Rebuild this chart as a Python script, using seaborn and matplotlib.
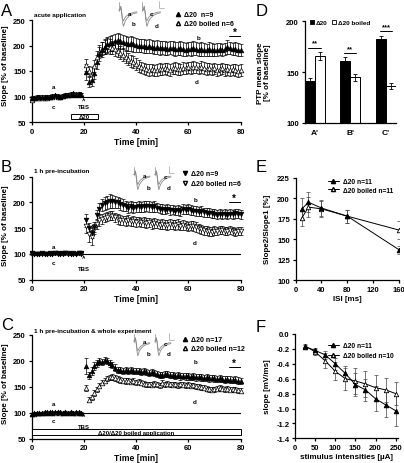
import numpy as np
import pandas as pd
import matplotlib
matplotlib.use("Agg")
import matplotlib.pyplot as plt
from matplotlib.patches import Rectangle
from matplotlib.lines import Line2D
import seaborn as sns

# ------------------------------------------------------------------ data
time_base = [0, 1, 2, 3, 4, 5, 6, 7, 8, 9, 10, 11, 12, 13, 14, 15, 16, 17, 18, 19]
time_post = [21, 22, 23, 24, 25, 26, 27, 28, 29, 30, 31, 32, 33, 34, 35, 36, 37, 38, 39, 40,
             41, 42, 43, 44, 45, 46, 47, 48, 49, 50, 51, 52, 53, 54, 55, 56, 57, 58, 59, 60,
             61, 62, 63, 64, 65, 66, 67, 68, 69, 70, 71, 72, 73, 74, 75, 76, 77, 78, 79, 80]

# Panel A - acute application
A_d20 = [98, 98, 99, 99, 99, 99, 100, 99, 101, 102, 101, 100, 101, 102, 103, 103, 104, 103, 104, 103,
         148, 128, 133, 147, 168, 183, 192, 198, 202, 204, 205, 208, 210, 208, 207, 205, 203, 204, 202, 201,
         200, 200, 199, 198, 199, 198, 196, 197, 195, 196, 195, 194, 196, 195, 193, 194, 195, 193, 192, 194,
         193, 195, 194, 192, 193, 192, 191, 193, 192, 191, 192, 193, 191, 193, 197, 195, 193, 194, 192, 191]
A_d20_err = [3, 3, 3, 3, 3, 3, 3, 3, 3, 3, 3, 3, 3, 3, 3, 3, 4, 4, 4, 4,
             15, 10, 12, 13, 14, 14, 14, 14, 14, 15, 15, 15, 15, 14, 14, 14, 14, 14, 14, 14,
             13, 13, 13, 13, 13, 13, 13, 13, 13, 13, 13, 12, 13, 13, 13, 13, 13, 13, 12, 13,
             13, 13, 13, 13, 13, 12, 12, 13, 12, 12, 12, 12, 12, 12, 13, 12, 12, 12, 12, 12]
A_boil = [94, 97, 98, 98, 97, 98, 98, 99, 100, 101, 100, 99, 101, 103, 103, 105, 106, 104, 105, 104,
          162, 150, 145, 160, 178, 188, 194, 197, 200, 198, 196, 193, 190, 186, 182, 178, 174, 170, 167, 163,
          160, 157, 155, 153, 152, 153, 151, 152, 154, 153, 155, 154, 152, 155, 156, 154, 153, 156, 155, 157,
          156, 158, 157, 155, 158, 156, 154, 155, 153, 155, 152, 153, 155, 152, 153, 151, 153, 152, 150, 152]
A_boil_err = [3, 3, 3, 3, 3, 3, 3, 3, 3, 3, 3, 3, 3, 3, 3, 3, 3, 3, 3, 3,
              12, 10, 12, 12, 12, 13, 13, 13, 14, 14, 13, 13, 13, 13, 13, 12, 12, 12, 12, 12,
              12, 11, 11, 11, 11, 11, 11, 11, 11, 11, 11, 11, 11, 11, 11, 11, 11, 11, 11, 11,
              11, 11, 11, 11, 11, 11, 11, 11, 11, 11, 11, 11, 11, 11, 11, 11, 11, 11, 11, 11]

# Panel B - 1 h pre-incubation
B_d20 = [101, 100, 99, 100, 101, 100, 99, 101, 100, 102, 101, 100, 101, 102, 101, 100, 101, 100, 101, 101,
         165, 150, 140, 152, 175, 188, 195, 198, 200, 203, 202, 201, 200, 197, 195, 193, 190, 192, 190, 191,
         192, 191, 192, 193, 192, 191, 192, 190, 188, 187, 186, 188, 185, 186, 184, 185, 183, 187, 186, 187,
         185, 184, 183, 182, 183, 181, 180, 180, 179, 178, 176, 178, 177, 178, 176, 178, 177, 179, 178, 177]
B_d20_err = [2, 2, 2, 2, 2, 2, 2, 2, 2, 2, 2, 2, 2, 2, 2, 2, 2, 2, 2, 2,
             12, 10, 10, 9, 10, 10, 11, 12, 12, 14, 12, 12, 11, 11, 11, 10, 10, 10, 10, 10,
             10, 10, 10, 10, 10, 10, 10, 9, 9, 9, 9, 9, 9, 9, 9, 9, 9, 9, 9, 9,
             9, 9, 9, 9, 9, 9, 9, 9, 9, 9, 9, 9, 9, 9, 9, 9, 9, 9, 9, 9]
B_boil = [100, 99, 100, 100, 99, 100, 100, 99, 100, 101, 100, 100, 99, 101, 100, 100, 99, 100, 101, 100,
          155, 138, 132, 148, 158, 165, 168, 170, 172, 175, 174, 171, 168, 166, 165, 164, 166, 163, 164, 162,
          163, 161, 162, 160, 161, 158, 160, 159, 157, 158, 157, 156, 158, 157, 156, 158, 155, 156, 155, 153,
          155, 154, 152, 150, 148, 146, 145, 144, 143, 145, 144, 146, 147, 145, 144, 146, 145, 143, 144, 145]
B_boil_err = [2, 2, 2, 2, 2, 2, 2, 2, 2, 2, 2, 2, 2, 2, 2, 2, 2, 2, 2, 2,
              15, 15, 14, 10, 10, 10, 9, 9, 9, 9, 9, 9, 9, 9, 9, 9, 9, 9, 9, 9,
              9, 9, 9, 9, 9, 9, 9, 9, 9, 9, 9, 9, 9, 9, 9, 9, 9, 9, 9, 9,
              9, 9, 9, 9, 9, 9, 9, 9, 9, 9, 8, 8, 8, 8, 8, 8, 8, 8, 8, 8]

# Panel C - 1 h pre-incubation & whole experiment
C_d20 = [98, 99, 100, 99, 100, 101, 100, 101, 100, 101, 102, 101, 100, 101, 100, 101, 100, 101, 100, 100,
         190, 172, 180, 190, 195, 200, 198, 202, 200, 195, 192, 187, 183, 182, 180, 183, 181, 182, 180, 181,
         180, 179, 180, 178, 177, 178, 176, 175, 173, 172, 175, 174, 172, 173, 171, 172, 170, 171, 170, 170,
         169, 170, 168, 169, 168, 167, 168, 166, 167, 166, 165, 166, 165, 164, 165, 164, 163, 164, 162, 161]
C_d20_err = [2, 2, 2, 2, 2, 2, 2, 2, 2, 2, 2, 2, 2, 2, 2, 2, 2, 2, 2, 2,
             15, 7, 8, 7, 6, 6, 6, 6, 6, 6, 6, 6, 6, 6, 6, 6, 6, 6, 6, 6,
             6, 6, 6, 6, 6, 6, 6, 6, 6, 6, 6, 6, 6, 6, 6, 6, 6, 6, 6, 6,
             6, 6, 6, 6, 6, 6, 6, 6, 6, 6, 6, 6, 6, 6, 6, 6, 6, 6, 6, 6]
C_boil = [97, 98, 99, 100, 99, 100, 101, 100, 101, 100, 101, 100, 100, 101, 100, 101, 100, 100, 101, 100,
          148, 125, 130, 138, 145, 152, 158, 162, 166, 168, 169, 167, 165, 163, 162, 161, 162, 160, 161, 159,
          160, 158, 156, 155, 155, 154, 156, 155, 153, 158, 155, 156, 155, 154, 155, 153, 155, 154, 153, 154,
          152, 153, 151, 150, 149, 148, 146, 145, 144, 145, 146, 148, 146, 145, 146, 144, 145, 144, 143, 142]
C_boil_err = [2, 2, 2, 2, 2, 2, 2, 2, 2, 2, 2, 2, 2, 2, 2, 2, 2, 2, 2, 2,
              6, 5, 5, 5, 5, 5, 5, 5, 5, 5, 5, 5, 5, 5, 5, 5, 5, 5, 5, 5,
              5, 5, 5, 5, 5, 5, 5, 5, 5, 5, 5, 5, 5, 5, 5, 5, 5, 5, 5, 5,
              5, 5, 5, 5, 5, 5, 5, 5, 5, 5, 5, 5, 5, 5, 5, 5, 5, 5, 5, 5]

# Panel D - PTP mean slope
D_conditions = ["A'", "B'", "C'"]
D_d20 = [141, 161, 183]
D_d20_err = [3.5, 3.5, 3]
D_boil = [166, 145, 136]
D_boil_err = [4, 3.5, 3]
D_sig = ["**", "**", "***"]

# Panel E - paired pulse
E_isi = [10, 20, 40, 80, 160]
E_d20 = [187, 195, 188, 178, 137]
E_d20_err = [13, 12, 10, 8, 5]
E_boil = [176, 189, 187, 178, 161]
E_boil_err = [10, 12, 10, 8, 11]

# Panel F - input/output
F_stim = [25, 50, 75, 100, 125, 150, 175, 200, 225, 250]
F_d20 = [-0.17, -0.22, -0.28, -0.40, -0.53, -0.68, -0.75, -0.87, -0.95, -1.03]
F_d20_err = [0.02, 0.03, 0.05, 0.08, 0.10, 0.15, 0.15, 0.17, 0.17, 0.20]
F_boil = [-0.16, -0.24, -0.36, -0.50, -0.60, -0.63, -0.67, -0.72, -0.75, -0.80]
F_boil_err = [0.02, 0.04, 0.10, 0.12, 0.15, 0.18, 0.17, 0.17, 0.16, 0.15]

# example field potential traces (insets)
trace_t = [0, 1, 2, 3, 4, 5, 6, 7, 9, 12, 16, 20]
trace_base = [0.0, 0.0, 0.4, -0.2, -0.9, -1.2, -1.0, -0.8, -0.6, -0.4, -0.25, -0.2]
trace_ltp = [0.0, 0.0, 0.4, -0.3, -1.3, -1.8, -1.5, -1.2, -0.9, -0.6, -0.4, -0.3]

# ------------------------------------------------------------------ style
sns.set_theme(style="ticks")
plt.rcParams['font.family'] = ['Liberation Sans', 'DejaVu Sans']
plt.rcParams.update({
    'font.weight': 'bold',
    'axes.labelweight': 'bold',
    'axes.linewidth': 0.9,
    'xtick.major.width': 0.9,
    'ytick.major.width': 0.9,
    'xtick.major.size': 2.5,
    'ytick.major.size': 2.5,
    'xtick.major.pad': 1.5,
    'ytick.major.pad': 1.5,
    'xtick.labelsize': 5.5,
    'ytick.labelsize': 5.5,
    'axes.labelsize': 5.8,
    'xtick.color': 'black',
    'ytick.color': 'black',
    'axes.edgecolor': 'black',
    'text.color': 'black',
    'axes.labelcolor': 'black',
})

W, H = 404, 464
fig = plt.figure(figsize=(W / 100, H / 100), dpi=100)
fig.patch.set_facecolor('white')


def axes_px(l, t, r, b):
    return fig.add_axes([l / W, 1 - b / H, (r - l) / W, (b - t) / H])


def ftext(x, y, s, **kw):
    fig.text(x / W, 1 - y / H, s, **kw)


def finish(ax):
    sns.despine(ax=ax)
    for lab in ax.get_xticklabels() + ax.get_yticklabels():
        lab.set_fontweight('bold')


def ylabel_at(ax, text, x_px, y_px, **kw):
    ax.set_ylabel(text, **kw)
    ax.yaxis.set_label_coords(x_px / W, 1 - y_px / H, transform=fig.transFigure)


def time_panel(ax, y_f, e_f, y_o, e_o, marker, ylab_y):
    t = np.array(time_base + time_post)
    ax.axhline(100, color='black', lw=0.8, zorder=1)
    ax.errorbar(t, y_o, yerr=e_o, fmt='none', ecolor='black', elinewidth=0.5,
                capsize=1.6, capthick=0.5, zorder=2, clip_on=False)
    ax.errorbar(t, y_f, yerr=e_f, fmt='none', ecolor='black', elinewidth=0.5,
                capsize=1.6, capthick=0.5, zorder=3, clip_on=False)
    sns.scatterplot(x=t, y=y_o, marker=marker, s=11, color='white', edgecolor='black',
                    linewidth=0.5, ax=ax, zorder=4, clip_on=False)
    sns.scatterplot(x=t, y=y_f, marker=marker, s=11, color='black', edgecolor='black',
                    linewidth=0.5, ax=ax, zorder=5, clip_on=False)
    ax.set_xlim(0, 80)
    ax.set_ylim(50, 250)
    ax.set_xticks([0, 20, 40, 60, 80])
    ax.set_yticks([50, 100, 150, 200, 250])
    ax.set_xlabel('Time [min]', labelpad=1.5, fontsize=6.2)
    ylabel_at(ax, 'Slope [% of baseline]', 9, ylab_y)
    finish(ax)


def inset_traces(l, t, r, b):
    ia = axes_px(l, t, r, b)
    ia.set_axis_off()
    tt = np.array(trace_t)
    grey = '#8a8a8a'
    for off in (0, 26):
        ia.plot([off, off], [0.9, -0.1], color=grey, lw=0.5)
        ia.plot(tt + off, trace_base, color=grey, lw=0.6)
        ia.plot(tt + off, trace_ltp, color=grey, lw=0.6)
    ia.plot([44, 44, 50], [1.0, 0.2, 0.2], color=grey, lw=0.4)
    ia.set_xlim(-1, 51)
    ia.set_ylim(-2.2, 1.0)
    return ia


def tbs(ax, y_tip, y_text):
    ax.annotate('', xy=(20, y_tip), xytext=(20, y_tip - 9),
                arrowprops=dict(arrowstyle='->', lw=0.5, color='black', mutation_scale=4))
    ax.text(20, y_text, 'TBS', ha='center', va='center', fontsize=4.3, fontweight='bold')


small = dict(fontsize=4.5, fontweight='bold', ha='center', va='center')
leg_kw = dict(loc='upper left', bbox_transform=fig.transFigure, frameon=False,
              prop={'size': 5, 'weight': 'bold'}, handlelength=0.8, handletextpad=0.5,
              borderpad=0, borderaxespad=0)

# ------------------------------------------------------------------ Panel A
axA = axes_px(31.5, 21, 240.5, 123)
time_panel(axA, A_d20, A_d20_err, A_boil, A_boil_err, '^', 66)
axA.add_patch(Rectangle((15, 55), 10.5, 10.5, facecolor='white', edgecolor='black', lw=0.7, zorder=3))
axA.text(20.25, 60.3, 'Δ20', fontsize=4.3, fontweight='bold', ha='center', va='center', zorder=4)
tbs(axA, 97, 80)
axA.text(8.3, 119, 'a', **small)
axA.text(8.3, 81, 'c', **small)
axA.text(63.8, 216, 'b', **small)
axA.text(63.2, 130, 'd', **small)
axA.plot([75.5, 80], [219, 219], color='black', lw=0.7)
axA.text(77.8, 227, '*', fontsize=7, fontweight='bold', ha='center', va='center')
ftext(34, 15, 'acute application', fontsize=4.6, fontweight='bold', va='center')
ftext(1, 11, 'A', fontsize=12, fontweight='normal', va='center')
inset_traces(118, 2, 165, 31)
ftext(130, 15, 'a', **small)
ftext(134, 25, 'b', **small)
ftext(151, 14, 'c', **small)
ftext(157, 26, 'd', **small)
axA.legend(handles=[Line2D([], [], marker='^', color='black', ls='none', markersize=3),
                    Line2D([], [], marker='^', color='black', mfc='white', ls='none', markersize=3)],
           labels=['Δ20  n=9', 'Δ20 boiled n=6'], bbox_to_anchor=(175 / W, 1 - 12 / H),
           labelspacing=0.3, **leg_kw)

# ------------------------------------------------------------------ Panel B
axB = axes_px(31.5, 177.6, 240.5, 280.7)
time_panel(axB, B_d20, B_d20_err, B_boil, B_boil_err, 'v', 226)
tbs(axB, 97, 71)
axB.text(8.3, 115, 'a', **small)
axB.text(8.3, 84, 'c', **small)
axB.text(62.8, 206, 'b', **small)
axB.text(62.6, 122, 'd', **small)
axB.plot([75.5, 80], [200, 200], color='black', lw=0.7)
axB.text(77.6, 208, '*', fontsize=7, fontweight='bold', ha='center', va='center')
ftext(34, 171.5, '1 h pre-incubation', fontsize=4.6, fontweight='bold', va='center')
ftext(1, 168, 'B', fontsize=12, fontweight='normal', va='center')
inset_traces(133, 167, 175, 194)
ftext(145, 177, 'a', **small)
ftext(149, 189, 'b', **small)
ftext(165, 178, 'c', **small)
ftext(169, 189, 'd', **small)
axB.legend(handles=[Line2D([], [], marker='v', color='black', ls='none', markersize=3),
                    Line2D([], [], marker='v', color='black', mfc='white', ls='none', markersize=3)],
           labels=['Δ20 n=9', 'Δ20 boiled n=6'], bbox_to_anchor=(182 / W, 1 - 171 / H),
           labelspacing=0.45, **leg_kw)

# ------------------------------------------------------------------ Panel C
axC = axes_px(31.5, 336, 240.5, 439.5)
time_panel(axC, C_d20, C_d20_err, C_boil, C_boil_err, '^', 384)
axC.add_patch(Rectangle((0, 56), 80, 12, facecolor='white', edgecolor='black', lw=0.7, zorder=3,
                        clip_on=False))
axC.text(40, 62, 'Δ20/Δ20 boiled application', fontsize=4.3, fontweight='bold',
         ha='center', va='center', zorder=4)
tbs(axC, 98, 73)
axC.text(8.3, 117, 'a', **small)
axC.text(8.3, 84.5, 'c', **small)
axC.text(62.8, 198, 'b', **small)
axC.text(62.6, 122, 'd', **small)
axC.plot([75.5, 80], [189, 189], color='black', lw=0.7)
axC.text(77.6, 197, '*', fontsize=7, fontweight='bold', ha='center', va='center')
ftext(34, 331.5, '1 h pre-incubation & whole experiment', fontsize=4.6, fontweight='bold', va='center')
ftext(1, 326, 'C', fontsize=12, fontweight='normal', va='center')
inset_traces(133, 334, 175, 360)
ftext(145, 343, 'a', **small)
ftext(149, 355, 'b', **small)
ftext(165, 344, 'c', **small)
ftext(169, 355, 'd', **small)
axC.legend(handles=[Line2D([], [], marker='^', color='black', ls='none', markersize=3),
                    Line2D([], [], marker='^', color='black', mfc='white', ls='none', markersize=3)],
           labels=['Δ20 n=17', 'Δ20 boiled n=12'], bbox_to_anchor=(182 / W, 1 - 337 / H),
           labelspacing=0.3, **leg_kw)

# ------------------------------------------------------------------ Panel D
axD = axes_px(304.5, 22.3, 396, 124)
dfD = pd.DataFrame({
    'cond': D_conditions * 2,
    'group': ['Δ20'] * 3 + ['Δ20 boiled'] * 3,
    'value': D_d20 + D_boil,
})
sns.barplot(data=dfD, x='cond', y='value', hue='group', palette=['black', 'white'],
            edgecolor='black', linewidth=0.7, width=0.56, errorbar=None, legend=False, ax=axD)
bars = sorted([p for p in axD.patches], key=lambda p: p.get_x())
vals = [D_d20[0], D_boil[0], D_d20[1], D_boil[1], D_d20[2], D_boil[2]]
errs = [D_d20_err[0], D_boil_err[0], D_d20_err[1], D_boil_err[1], D_d20_err[2], D_boil_err[2]]
cx = [p.get_x() + p.get_width() / 2 for p in bars]
axD.errorbar(cx, vals, yerr=errs, fmt='none', ecolor='black', elinewidth=0.6, capsize=1.6, capthick=0.6)
for i, s in enumerate(D_sig):
    top = max(vals[2 * i] + errs[2 * i], vals[2 * i + 1] + errs[2 * i + 1]) + 4
    axD.plot([cx[2 * i] - 0.03, cx[2 * i + 1] + 0.03], [top, top], color='black', lw=0.7)
    axD.text((cx[2 * i] + cx[2 * i + 1]) / 2, top + 1, s, fontsize=5.5, fontweight='bold',
             ha='center', va='bottom')
axD.set_ylim(100, 200)
axD.set_xlim(-0.28, 2.28)
axD.set_yticks([100, 150, 200])
axD.set_xlabel('')
ylabel_at(axD, 'PTP mean slope\n[% of baseline]', 271, 73, linespacing=1.05)
axD.tick_params(axis='x', length=0, pad=4, labelsize=6)
axD.legend(handles=[Rectangle((0, 0), 1, 1, fc='black', ec='black', lw=0.6),
                    Rectangle((0, 0), 1, 1, fc='white', ec='black', lw=0.6)],
           labels=['Δ20', 'Δ20 boiled'], ncol=2, loc='upper left',
           bbox_to_anchor=(310 / W, 1 - 21 / H), bbox_transform=fig.transFigure,
           frameon=False, prop={'size': 4.6, 'weight': 'bold'}, handlelength=0.6,
           handleheight=0.6, handletextpad=0.3, columnspacing=0.8, borderpad=0, borderaxespad=0)
finish(axD)
ftext(256, 12, 'D', fontsize=12, fontweight='normal', va='center')

# ------------------------------------------------------------------ Panel E
axE = axes_px(295.5, 178.7, 399, 281)
sns.lineplot(x=E_isi, y=E_boil, ax=axE, color='black', lw=0.7, marker='^', markersize=3.2,
             markerfacecolor='white', markeredgecolor='black', markeredgewidth=0.6, zorder=3)
sns.lineplot(x=E_isi, y=E_d20, ax=axE, color='black', lw=0.7, marker='^', markersize=3.2,
             markerfacecolor='black', markeredgecolor='black', zorder=4)
axE.errorbar(E_isi, E_boil, yerr=E_boil_err, fmt='none', ecolor='#444444', elinewidth=0.5,
             capsize=1.6, capthick=0.5, zorder=2)
axE.errorbar(E_isi, E_d20, yerr=E_d20_err, fmt='none', ecolor='#444444', elinewidth=0.5,
             capsize=1.6, capthick=0.5, zorder=2)
axE.set_xlim(0, 160)
axE.set_ylim(100, 225)
axE.set_xticks([0, 40, 80, 120, 160])
axE.set_yticks([100, 125, 150, 175, 200, 225])
axE.set_xlabel('ISI [ms]', labelpad=1.5)
ylabel_at(axE, 'Slope2/Slope1 [%]', 271, 229)
axE.legend(handles=[Line2D([], [], marker='^', color='black', lw=0.7, markersize=3),
                    Line2D([], [], marker='^', color='black', mfc='white', lw=0.7, markersize=3)],
           labels=['Δ20 n=11', 'Δ20 boiled n=11'], loc='upper left',
           bbox_to_anchor=(328 / W, 1 - 179 / H), bbox_transform=fig.transFigure,
           frameon=False, prop={'size': 4.8, 'weight': 'bold'}, handlelength=1.6,
           handletextpad=0.6, labelspacing=0.25, borderpad=0, borderaxespad=0)
finish(axE)
ftext(256, 168, 'E', fontsize=12, fontweight='normal', va='center')

# ------------------------------------------------------------------ Panel F
axF = axes_px(295, 335, 397.7, 439.3)
sns.lineplot(x=F_stim, y=F_boil, ax=axF, color='black', lw=0.7, marker='^', markersize=3.2,
             markerfacecolor='white', markeredgecolor='black', markeredgewidth=0.6, zorder=3)
sns.lineplot(x=F_stim, y=F_d20, ax=axF, color='black', lw=0.7, marker='^', markersize=3.2,
             markerfacecolor='black', markeredgecolor='black', zorder=4)
axF.errorbar(F_stim, F_boil, yerr=F_boil_err, fmt='none', ecolor='#444444', elinewidth=0.5,
             capsize=1.6, capthick=0.5, zorder=2)
axF.errorbar(F_stim, F_d20, yerr=F_d20_err, fmt='none', ecolor='#444444', elinewidth=0.5,
             capsize=1.6, capthick=0.5, zorder=2)
axF.set_xlim(0, 255)
axF.set_ylim(-1.4, 0.0)
axF.set_xticks([0, 50, 100, 150, 200, 250])
axF.set_yticks([0.0, -0.2, -0.4, -0.6, -0.8, -1.0, -1.2, -1.4])
axF.set_yticklabels(['0.0', '-0.2', '-0.4', '-0.6', '-0.8', '-1.0', '-1.2', '-1.4'])
axF.set_xlabel('stimulus intensities [µA]', labelpad=1.5)
ylabel_at(axF, 'slope [mV/ms]', 271, 387)
axF.legend(handles=[Line2D([], [], marker='^', color='black', lw=0.7, markersize=3),
                    Line2D([], [], marker='^', color='black', mfc='white', lw=0.7, markersize=3)],
           labels=['Δ20 n=11', 'Δ20 boiled n=10'], loc='upper left',
           bbox_to_anchor=(328 / W, 1 - 343 / H), bbox_transform=fig.transFigure,
           frameon=False, prop={'size': 4.8, 'weight': 'bold'}, handlelength=1.6,
           handletextpad=0.6, labelspacing=0.45, borderpad=0, borderaxespad=0)
finish(axF)
ftext(256, 327, 'F', fontsize=12, fontweight='normal', va='center')

fig.savefig('out.png', dpi=100, facecolor='white')
